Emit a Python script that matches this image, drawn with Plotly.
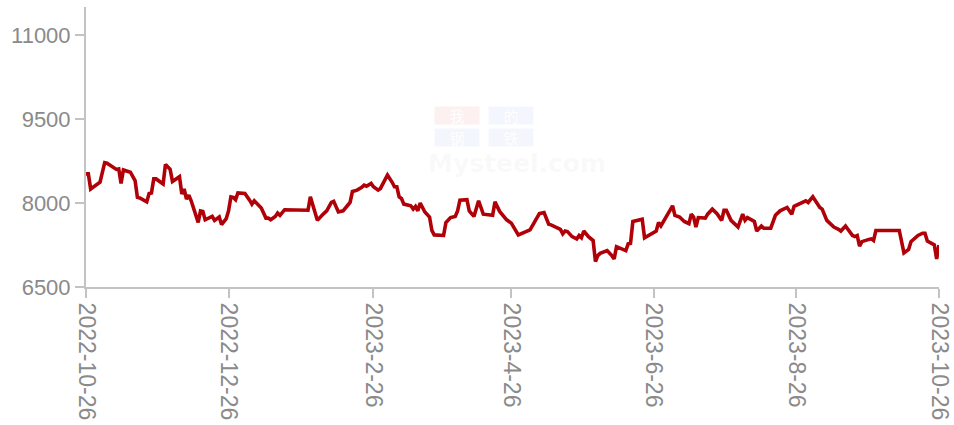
import plotly.graph_objects as go

dates = [
    "2022-10-26", "2022-10-27", "2022-10-28", "2022-10-31", "2022-11-01", "2022-11-03", "2022-11-04",
    "2022-11-08", "2022-11-09", "2022-11-10", "2022-11-11", "2022-11-14", "2022-11-16", "2022-11-17",
    "2022-11-18", "2022-11-21", "2022-11-22", "2022-11-23", "2022-11-24", "2022-11-25", "2022-11-28",
    "2022-11-29", "2022-12-01", "2022-12-02", "2022-12-05", "2022-12-06", "2022-12-07", "2022-12-08",
    "2022-12-09", "2022-12-10", "2022-12-13", "2022-12-14", "2022-12-15", "2022-12-16", "2022-12-19",
    "2022-12-20", "2022-12-21", "2022-12-22", "2022-12-23", "2022-12-25", "2022-12-26", "2022-12-27",
    "2022-12-28", "2022-12-29", "2022-12-30", "2023-01-02", "2023-01-04", "2023-01-05", "2023-01-06",
    "2023-01-09", "2023-01-11", "2023-01-12", "2023-01-13", "2023-01-15", "2023-01-16", "2023-01-17",
    "2023-01-19", "2023-01-29", "2023-01-30", "2023-01-31", "2023-02-02", "2023-02-04", "2023-02-06",
    "2023-02-08", "2023-02-09", "2023-02-11", "2023-02-13", "2023-02-15", "2023-02-16", "2023-02-17",
    "2023-02-19", "2023-02-21", "2023-02-22", "2023-02-23", "2023-02-25", "2023-02-26", "2023-02-28",
    "2023-03-01", "2023-03-04", "2023-03-06", "2023-03-07", "2023-03-08", "2023-03-09", "2023-03-10",
    "2023-03-11", "2023-03-14", "2023-03-15", "2023-03-16", "2023-03-17", "2023-03-18", "2023-03-20",
    "2023-03-22", "2023-03-23", "2023-03-24", "2023-03-28", "2023-03-29", "2023-03-31", "2023-04-02",
    "2023-04-03", "2023-04-04", "2023-04-07", "2023-04-08", "2023-04-10", "2023-04-12", "2023-04-14",
    "2023-04-18", "2023-04-19", "2023-04-21", "2023-04-24", "2023-04-26", "2023-04-29", "2023-05-04",
    "2023-05-06", "2023-05-08", "2023-05-10", "2023-05-12", "2023-05-13", "2023-05-17", "2023-05-18",
    "2023-05-19", "2023-05-20", "2023-05-22", "2023-05-24", "2023-05-25", "2023-05-26", "2023-05-27",
    "2023-05-29", "2023-05-31", "2023-06-01", "2023-06-02", "2023-06-03", "2023-06-06", "2023-06-08",
    "2023-06-09", "2023-06-10", "2023-06-11", "2023-06-14", "2023-06-15", "2023-06-16", "2023-06-17",
    "2023-06-21", "2023-06-22", "2023-06-27", "2023-06-28", "2023-06-29", "2023-07-04", "2023-07-05",
    "2023-07-07", "2023-07-09", "2023-07-11", "2023-07-12", "2023-07-13", "2023-07-14", "2023-07-15",
    "2023-07-18", "2023-07-19", "2023-07-21", "2023-07-23", "2023-07-25", "2023-07-26", "2023-07-27",
    "2023-07-29", "2023-08-01", "2023-08-03", "2023-08-04", "2023-08-05", "2023-08-08", "2023-08-09",
    "2023-08-11", "2023-08-12", "2023-08-15", "2023-08-17", "2023-08-19", "2023-08-22", "2023-08-24",
    "2023-08-25", "2023-08-26", "2023-08-30", "2023-08-31", "2023-09-02", "2023-09-05", "2023-09-06",
    "2023-09-08", "2023-09-11", "2023-09-13", "2023-09-14", "2023-09-16", "2023-09-19", "2023-09-20",
    "2023-09-21", "2023-09-22", "2023-09-23", "2023-09-26", "2023-09-27", "2023-09-28", "2023-09-29",
    "2023-10-09", "2023-10-11", "2023-10-13", "2023-10-14", "2023-10-17", "2023-10-19", "2023-10-20",
    "2023-10-21", "2023-10-24", "2023-10-25", "2023-10-26",
]

prices = [
    8520, 8520, 8250, 8340, 8370, 8720, 8710,
    8600, 8610, 8350, 8590, 8550, 8400, 8100,
    8090, 8020, 8170, 8180, 8430, 8430, 8340,
    8690, 8600, 8385, 8470, 8160, 8250, 8070,
    8140, 8040, 7655, 7860, 7850, 7700, 7760,
    7690, 7730, 7750, 7615, 7720, 7860, 8110,
    8100, 8060, 8180, 8170, 8050, 7980, 8040,
    7910, 7730, 7730, 7700, 7760, 7820, 7780,
    7880, 7870, 8110, 7980, 7690, 7780, 7860,
    8010, 8030, 7840, 7860, 7960, 8010, 8205,
    8230, 8280, 8320, 8300, 8350, 8290, 8230,
    8260, 8500, 8370, 8290, 8290, 8110, 8080,
    7980, 7950, 7890, 7940, 7860, 8000, 7840,
    7750, 7510, 7430, 7420, 7650, 7740, 7760,
    7860, 8050, 8060, 7860, 7760, 8040, 7800,
    7780, 8020, 7850, 7700, 7640, 7430, 7520,
    7650, 7810, 7830, 7620, 7610, 7530, 7450,
    7500, 7490, 7400, 7360, 7420, 7380, 7500,
    7400, 7330, 6955, 7060, 7100, 7150, 7060,
    7000, 7220, 7200, 7150, 7270, 7280, 7670,
    7710, 7380, 7500, 7650, 7590, 7950, 7780,
    7750, 7670, 7630, 7800, 7750, 7570, 7740,
    7730, 7800, 7890, 7810, 7690, 7870, 7870,
    7690, 7570, 7800, 7690, 7740, 7670, 7500,
    7590, 7550, 7550, 7780, 7860, 7920, 7800,
    7940, 7960, 8040, 8010, 8110, 7920, 7890,
    7690, 7570, 7530, 7500, 7590, 7420, 7400,
    7420, 7230, 7310, 7350, 7360, 7330, 7510,
    7510, 7110, 7170, 7310, 7420, 7460, 7460,
    7320, 7250, 7000, 7250,
]

tick_dates = ["2022-10-26", "2022-12-26", "2023-02-26", "2023-04-26",
              "2023-06-26", "2023-08-26", "2023-10-26"]
tick_labels = ["2022-10-26", "2022-12-26", "2023-2-26", "2023-4-26",
               "2023-6-26", "2023-8-26", "2023-10-26"]
y_ticks = [6500, 8000, 9500, 11000]
y_labels = ["6500", "8000", "9500", "11000"]

fig = go.Figure()
fig.add_trace(go.Scatter(
    x=dates, y=prices, mode="lines",
    line=dict(color="#b00008", width=3.6),
    hoverinfo="x+y", showlegend=False,
))

# faint "我的钢铁 Mysteel.com" watermark
wm_cells = [("我", 0.4346, 0.612, "rgba(235,110,110,0.10)"),
            ("的", 0.4985, 0.612, "rgba(120,150,220,0.09)"),
            ("钢", 0.4346, 0.535, "rgba(120,150,220,0.09)"),
            ("铁", 0.4985, 0.535, "rgba(120,150,220,0.09)")]
for ch, px, py, bg in wm_cells:
    fig.add_annotation(xref="paper", yref="paper", x=px, y=py, text=ch,
                       showarrow=False, width=44, height=17, borderpad=0,
                       bgcolor=bg,
                       font=dict(size=15, color="rgba(255,255,255,0.95)",
                                 family="Noto Sans CJK SC"))
fig.add_annotation(xref="paper", yref="paper", x=0.5056, y=0.44, text="<b>Mysteel.com</b>",
                   showarrow=False,
                   font=dict(size=25, color="rgba(160,160,160,0.07)",
                             family="DejaVu Sans"))

axis_col = "#c3c3c3"
label_col = "#8a8a8a"
fig.update_layout(
    width=954, height=425,
    margin=dict(l=86, r=15, t=7, b=138),
    paper_bgcolor="white", plot_bgcolor="white",
    font=dict(family="Liberation Sans, Arial, sans-serif", color=label_col),
    xaxis=dict(
        type="date",
        range=["2022-10-26", "2023-10-26"],
        tickvals=tick_dates, ticktext=tick_labels,
        tickangle=90,
        tickfont=dict(size=23, color=label_col),
        showgrid=False, zeroline=False,
        showline=True, linecolor=axis_col, linewidth=2,
        ticks="outside", ticklen=9, tickwidth=1.5, tickcolor=axis_col,
        automargin=False,
    ),
    yaxis=dict(
        range=[6500, 11500],
        tickvals=y_ticks, ticktext=y_labels,
        tickfont=dict(size=22, color=label_col),
        showgrid=False, zeroline=False,
        showline=True, linecolor=axis_col, linewidth=2,
        ticks="outside", ticklen=9, tickwidth=1.5, tickcolor=axis_col,
        automargin=False,
    ),
)

fig.write_html("out.html", config={"displayModeBar": False},
               post_script="document.body.style.margin='0';")
